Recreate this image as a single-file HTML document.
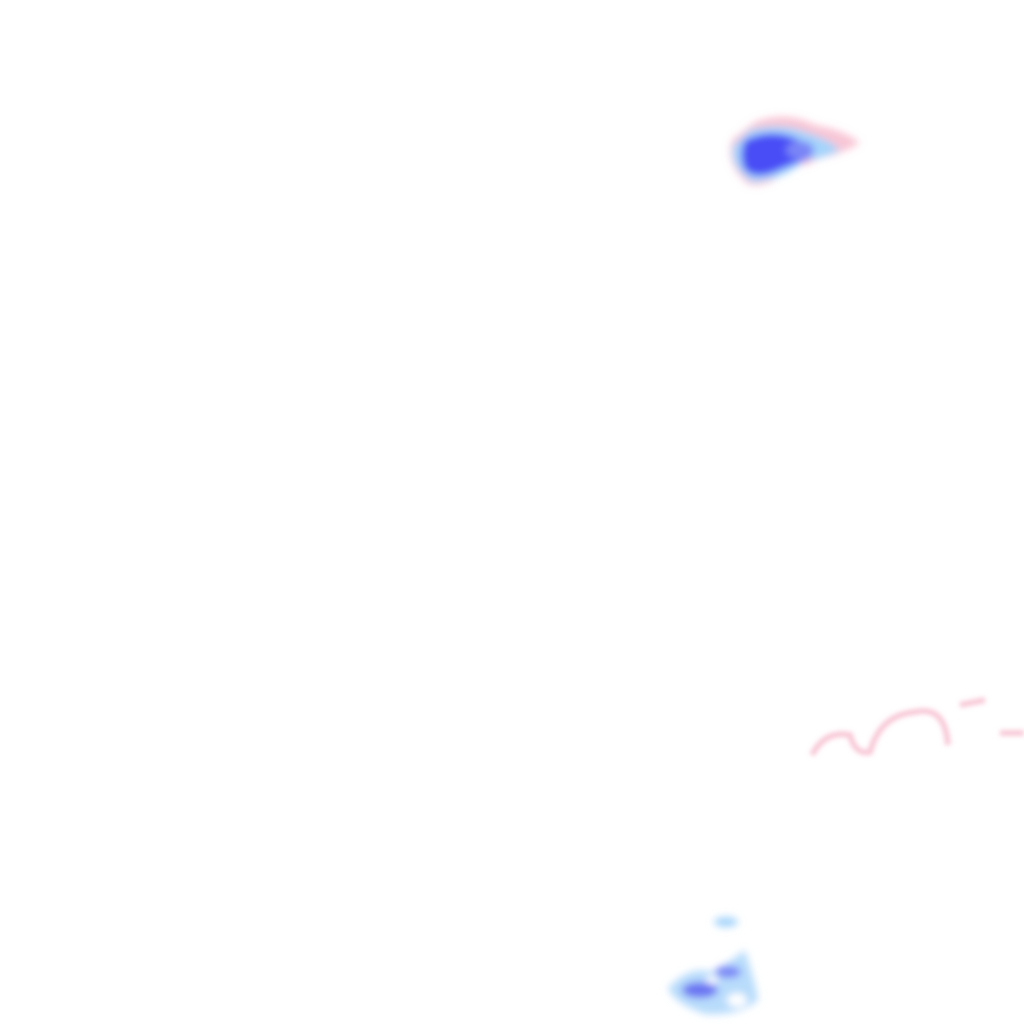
<!DOCTYPE html>
<html><head><style>html,body{margin:0;padding:0;background:#fff;width:1024px;height:1024px;overflow:hidden}</style></head>
<body>
<svg width="1024" height="1024" viewBox="0 0 1024 1024" xmlns="http://www.w3.org/2000/svg">
<defs>
<filter id="b4" x="-50%" y="-50%" width="200%" height="200%"><feGaussianBlur stdDeviation="4"/></filter>
<filter id="b2" x="-50%" y="-50%" width="200%" height="200%"><feGaussianBlur stdDeviation="2.5"/></filter>
</defs>
<rect width="1024" height="1024" fill="#fff"/>
<g filter="url(#b4)">
<path d="M755 122 Q785 110 815 125 Q845 130 860 143 Q840 155 820 158 Q805 168 790 165 Q770 190 748 184 Q725 165 732 140 Z" fill="#f8c6d5"/>
<path d="M750 130 Q780 122 805 132 Q830 140 840 150 Q820 160 805 160 Q785 180 752 182 Q728 165 734 145 Z" fill="#a4d4fb"/>
<path d="M745 140 Q770 128 795 138 Q815 148 810 158 Q790 165 775 172 Q755 180 745 170 Q738 155 745 140 Z" fill="#4a4ef5"/>
<ellipse cx="800" cy="150" rx="14" ry="9" fill="#7a86f6"/>
</g>
<g filter="url(#b2)" fill="none" stroke="#f8cad8" stroke-width="6">
<path d="M812 755 Q825 730 850 735 Q855 755 870 752 Q880 715 915 712 Q945 705 948 745"/>
<path d="M960 705 L985 700"/>
<path d="M1000 733 L1024 733"/>
</g>
<g filter="url(#b4)">
<path d="M668 988 Q690 965 712 972 Q735 958 745 950 Q756 985 758 1000 Q740 1016 705 1014 Q675 1004 668 988 Z" fill="#b8dcfb"/>
<ellipse cx="700" cy="990" rx="18" ry="8" fill="#6a74f2"/>
<ellipse cx="728" cy="972" rx="13" ry="6" fill="#7a86f6"/>
<ellipse cx="737" cy="1000" rx="10" ry="7" fill="#fff"/>
<ellipse cx="712" cy="980" rx="6" ry="4" fill="#fff"/>
<ellipse cx="726" cy="922" rx="12" ry="5" fill="#a4d4fb"/>
</g>
</svg>
</body></html>
